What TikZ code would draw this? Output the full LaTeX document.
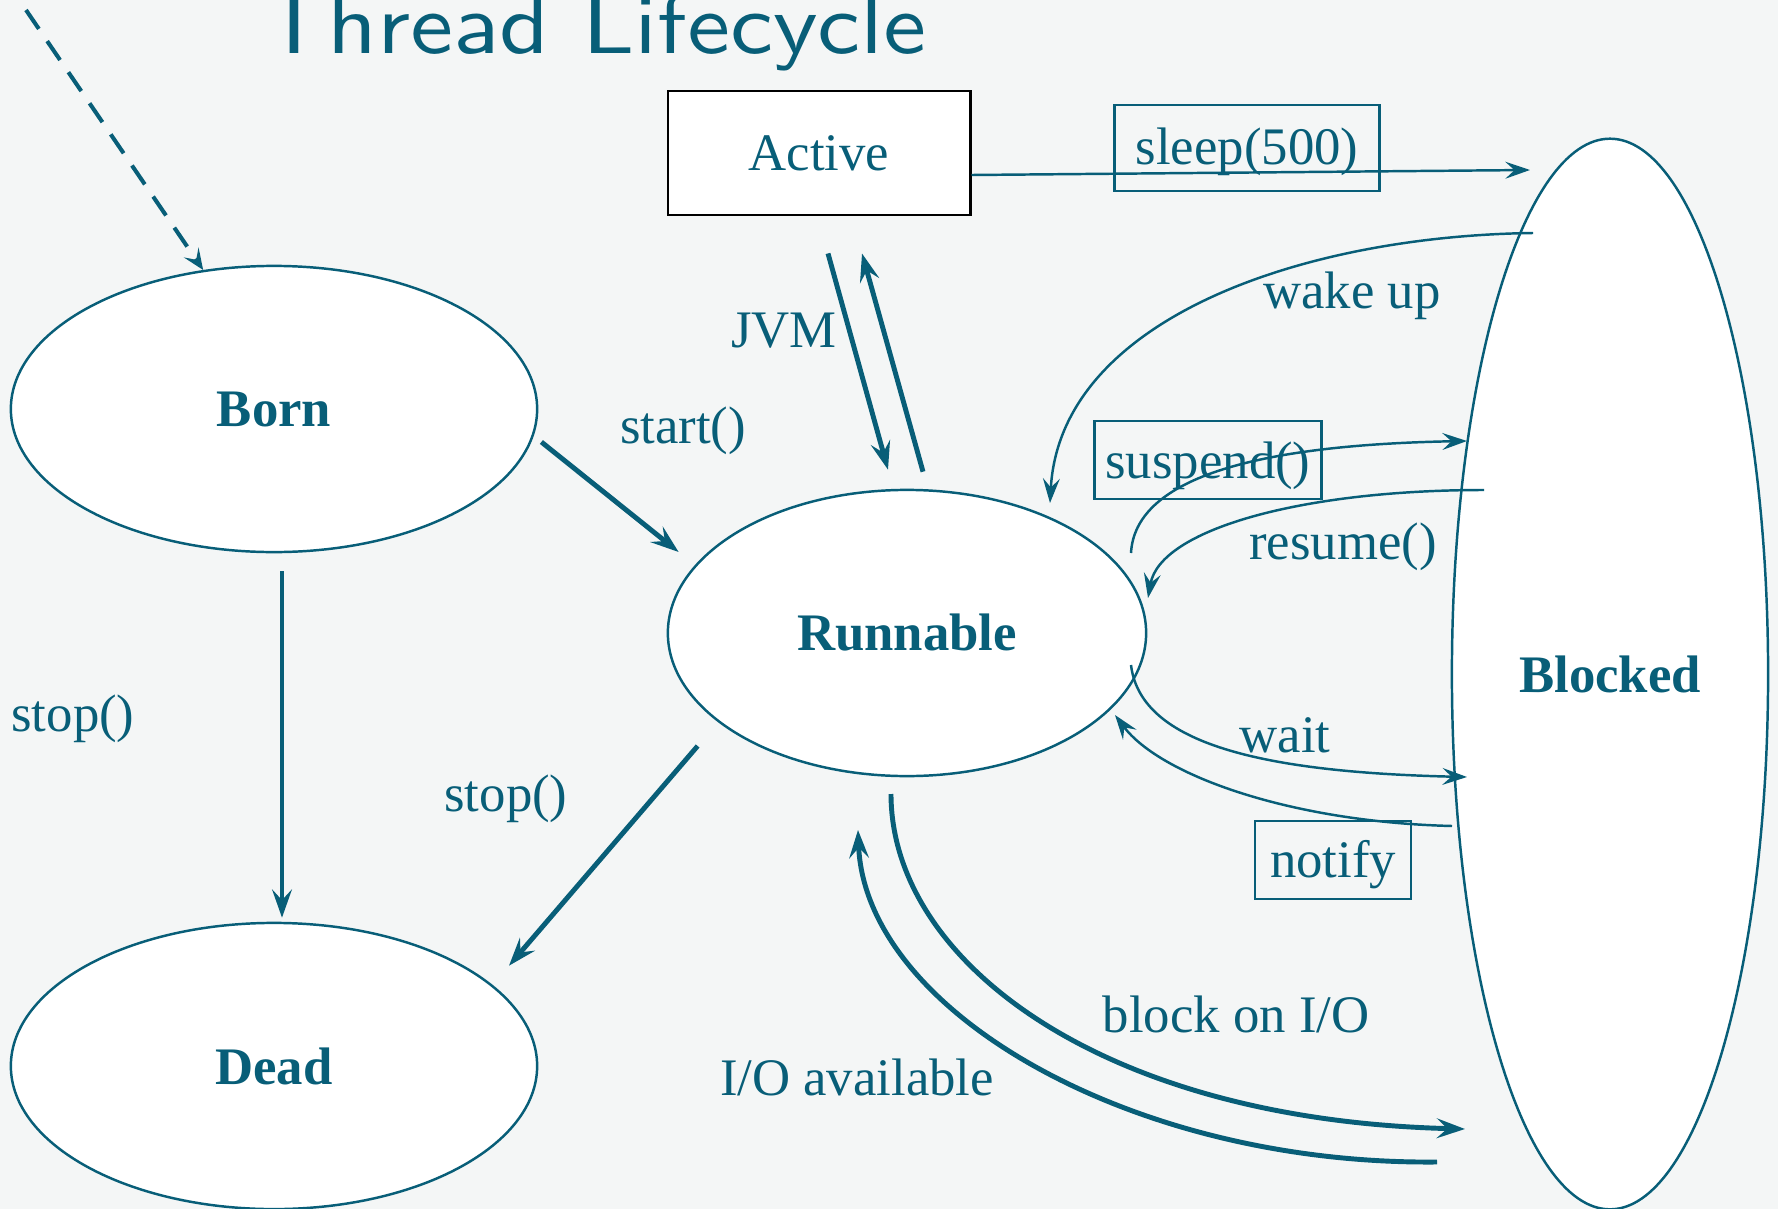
\documentclass[tikz,border=0pt]{standalone}
\usepackage{fontspec}
\setmainfont{Liberation Serif}
\newfontfamily\titlefont{lmsans10-regular.otf}
\usepackage{graphicx}
\usepackage{tikz}
\usetikzlibrary{arrows.meta}
\usetikzlibrary{shapes.geometric}
\definecolor{slideteal}{RGB}{8,94,120}
\definecolor{slidebg}{RGB}{244,246,246}
% text sits a little low in the call boxes
\newcommand\lowtext[2]{\raisebox{-#1}[\height][\depth]{#2}}

\begin{document}
\begin{tikzpicture}[x=0.01cm, y=-0.01cm,
    every node/.style={text=slideteal, font=\fontsize{15}{18}\selectfont},
    state/.style={ellipse, draw=slideteal, line width=0.7pt, fill=white, inner sep=0pt,
      minimum height=2.86cm, font=\fontsize{15}{18}\selectfont\bfseries},
    callbox/.style={draw=slideteal, line width=0.65pt, inner sep=0pt, minimum height=0.78cm},
    thinline/.style={draw=slideteal, line width=0.7pt, -{Stealth[length=7pt, width=4.8pt, inset=2.6pt]}},
    thickline/.style={draw=slideteal, line width=1.4pt, -{Stealth[length=8pt, width=5.6pt, inset=3pt]}}]
	%% some definitions
	\def\W{1778} % slide width
	\def\H{1209} % slide height

	\useasboundingbox (0,0) rectangle (\W,\H);
	\clip (0,0) rectangle (\W,\H);
	\fill[slidebg] (0,0) rectangle (\W,\H);

	% title, cut at the top edge
	\node[anchor=base, font=\titlefont\fontsize{21}{25}\selectfont] (title) at (594,53)
	  {\scalebox{1.31}[1.16]{Thread Lifecycle}};

	%% states
	\node[state, minimum width=5.26cm] (born) at (274,409) {Born};
	\node[state, minimum width=5.26cm] (dead) at (274,1066) {Dead};
	\node[state, minimum width=4.78cm] (runnable) at (907,633) {Runnable};
	\node[state, minimum width=3.16cm, minimum height=10.70cm] (blocked) at (1610,674) {Blocked};
	\node[draw=black, line width=0.8pt, fill=white, minimum width=3.02cm, minimum height=1.24cm]
	  (active) at (819,153) {Active};

	%% method calls in boxes
	\node[callbox, minimum width=2.65cm, minimum height=0.86cm] (sleepbox) at (1247,148) {\lowtext{1pt}{sleep(500)}};
	\node[callbox, minimum width=2.27cm] (suspendbox) at (1208,460) {\lowtext{1.7pt}{suspend()}};
	\node[callbox, minimum width=1.56cm] (notifybox) at (1333,860) {\lowtext{1.4pt}{notify}};

	%% plain labels
	\node (lblwake) at (1352,296) {wake up};
	\node (lbljvm) at (784,331) {JVM};
	\node (lblstart) at (683,431) {start()};
	\node (lblresume) at (1343,547) {resume()};
	\node (lblwait) at (1285,735) {wait};
	\node (lblstopa) at (73,719) {stop()};
	\node (lblstopb) at (506,799) {stop()};
	\node (lblblock) at (1236,1014) {block on I/O};
	\node (lblio) at (857,1077) {I/O available};

	% new thread comes in
	\coordinate (init) at (26,10);
	\draw[slideteal, line width=1.15pt, dash pattern=on 6.5pt off 4.2pt,
	  -{Stealth[length=6pt, width=5pt, inset=2.5pt]}] (init) -- (born.117);

	\begin{scope}[thickline]
	  \draw ([shift={(9,37)}]active.south) -- ([shift={(-19,-19)}]runnable.north);
	  \draw ([shift={(16,-17)}]runnable.north) -- ([shift={(43,37)}]active.south);
	  \draw ([shift={(3,33)}]born.east) -- ([shift={(12,-81)}]runnable.west);
	  \draw ([shift={(8,18)}]born.south) -- ([shift={(8,-4)}]dead.north);
	  \draw ([shift={(31,113)}]runnable.west) -- ([shift={(235,44)}]dead.north);
	  \draw ([shift={(-16,161)}]runnable.center) .. controls +(0,166) and +(-366,-9) .. ([shift={(-145,455)}]blocked.center);
	  \draw ([shift={(-173,488)}]blocked.center) .. controls +(-307,3) and +(7,180) .. ([shift={(-49,197)}]runnable.center);
	\end{scope}

	\begin{scope}[thinline]
	  \draw ([shift={(0,22)}]active.east) -- ([shift={(-80,-504)}]blocked.center);
	  \draw ([shift={(-77,-441)}]blocked.center) .. controls +(-233,3) and +(10,-183) .. ([shift={(143,-130)}]runnable.center);
	  \draw ([shift={(224,-80)}]runnable.center) .. controls +(4,-73) and +(-217,4) .. ([shift={(-143,-233)}]blocked.center);
	  \draw ([shift={(-126,-184)}]blocked.center) .. controls +(-184,0) and +(12,-68) .. ([shift={(241,-35)}]runnable.center);
	  \draw ([shift={(224,32)}]runnable.center) .. controls +(9,75) and +(-217,-5) .. ([shift={(-143,103)}]blocked.center);
	  \draw ([shift={(-158,152)}]blocked.center) .. controls +(-162,-4) and +(45,60) .. ([shift={(208,82)}]runnable.center);
	\end{scope}
\end{tikzpicture}
\end{document}
